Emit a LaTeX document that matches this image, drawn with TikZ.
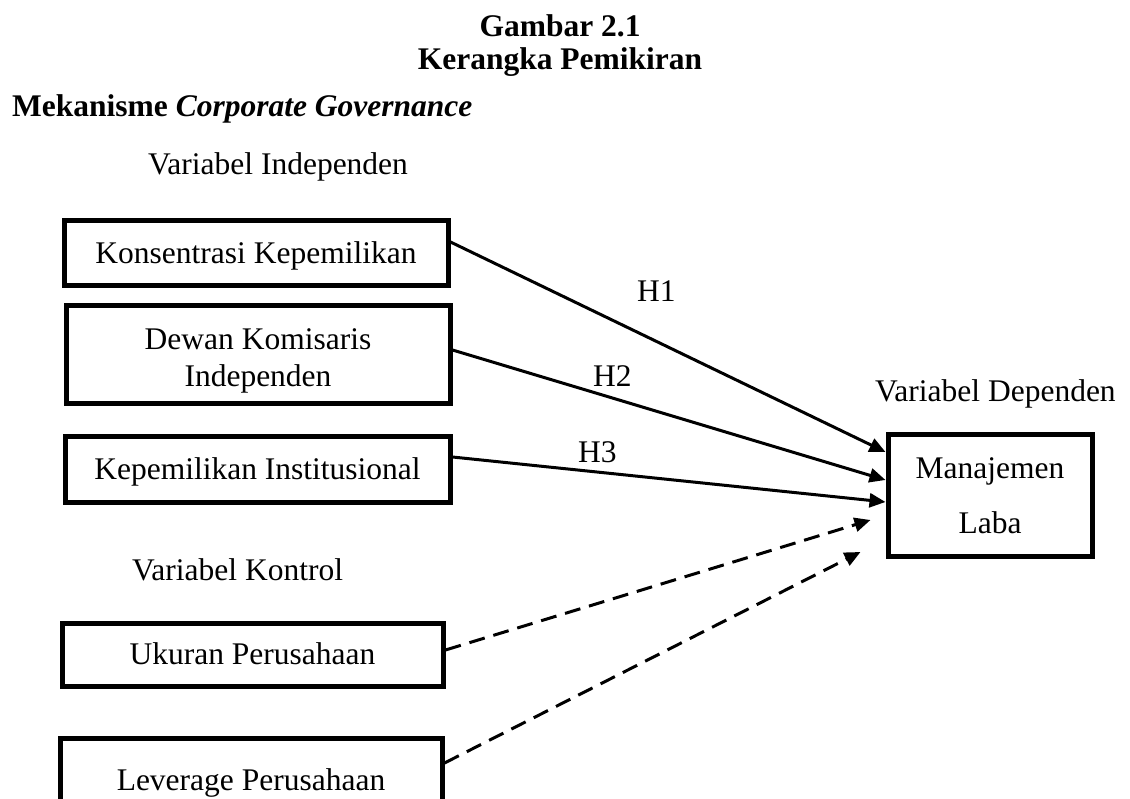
\documentclass[tikz,border=0pt]{standalone}
\usepackage{fontspec}
\setmainfont{Liberation Serif}
\usetikzlibrary{arrows.meta}
\begin{document}
\begin{tikzpicture}[x=1pt,y=-1pt,
  every node/.style={font=\fontsize{31.5}{37}\selectfont, inner sep=0pt},
  box/.style={draw, line width=5pt, align=center},
  onebox/.style={box, text height=20.8pt, text depth=0pt},
  arr/.style={line width=3pt, -{Triangle[length=16pt,width=14pt]}},
  darr/.style={arr, dash pattern=on 16pt off 9pt},
  lbl/.style={anchor=base west},
  ttl/.style={anchor=base, font=\fontsize{31.5}{37}\selectfont\bfseries}
]
\useasboundingbox (0,0) rectangle (1130,799);
\clip (0,0) rectangle (1130,799);
% titles
\node[ttl] (t1) at (560,37) {Gambar 2.1};
\node[ttl] (t2) at (560,70) {Kerangka Pemikiran};
\node[lbl, font=\fontsize{31.5}{37}\selectfont\bfseries] (mek) at (12,117) {Mekanisme \textit{Corporate Governance}};
\node[lbl] (vi) at (148,175) {Variabel Independen};
\node[lbl] (vd) at (875,402) {Variabel Dependen};
\node[lbl] (vk) at (132,580) {Variabel Kontrol};
% boxes
\node[onebox, minimum width=384pt, minimum height=65pt] (b1) at (256,253.5) {Konsentrasi Kepemilikan};
\node[box, minimum width=384pt, minimum height=98pt] (b2) at (258,355) {\rule{0pt}{33pt}Dewan Komisaris\\Independen};
\node[onebox, minimum width=385pt, minimum height=65pt] (b3) at (257.5,469.5) {Kepemilikan Institusional};
\node[onebox, minimum width=381pt, minimum height=63pt] (b4) at (252.5,654.5) {Ukuran Perusahaan};
\node[onebox, minimum width=382pt, minimum height=84pt] (b5) at (251,780) {Leverage Perusahaan};
\node[box, minimum width=204pt, minimum height=121pt, font=\fontsize{31.5}{55}\selectfont] (m) at (990,495.5) {Manajemen\\Laba};
% arrows
\draw[arr] ([yshift=11.5pt]b1.east) -- ([yshift=43.5pt]m.west);
\draw[arr] ([yshift=5pt]b2.east) -- ([yshift=15.5pt]m.west);
\draw[arr] ([yshift=12.5pt]b3.east) -- ([yshift=-6.5pt]m.west);
\draw[darr] ([yshift=4.5pt]b4.east) -- ([xshift=-15pt,yshift=-24.5pt]m.west);
\draw[darr] ([yshift=17pt]b5.east) -- ([xshift=-25pt,yshift=-56.5pt]m.west);
% hypothesis labels
\node[lbl] (h1) at (637,302) {H1};
\node[lbl] (h2) at (593,387) {H2};
\node[lbl] (h3) at (578,462) {H3};
\end{tikzpicture}
\end{document}
